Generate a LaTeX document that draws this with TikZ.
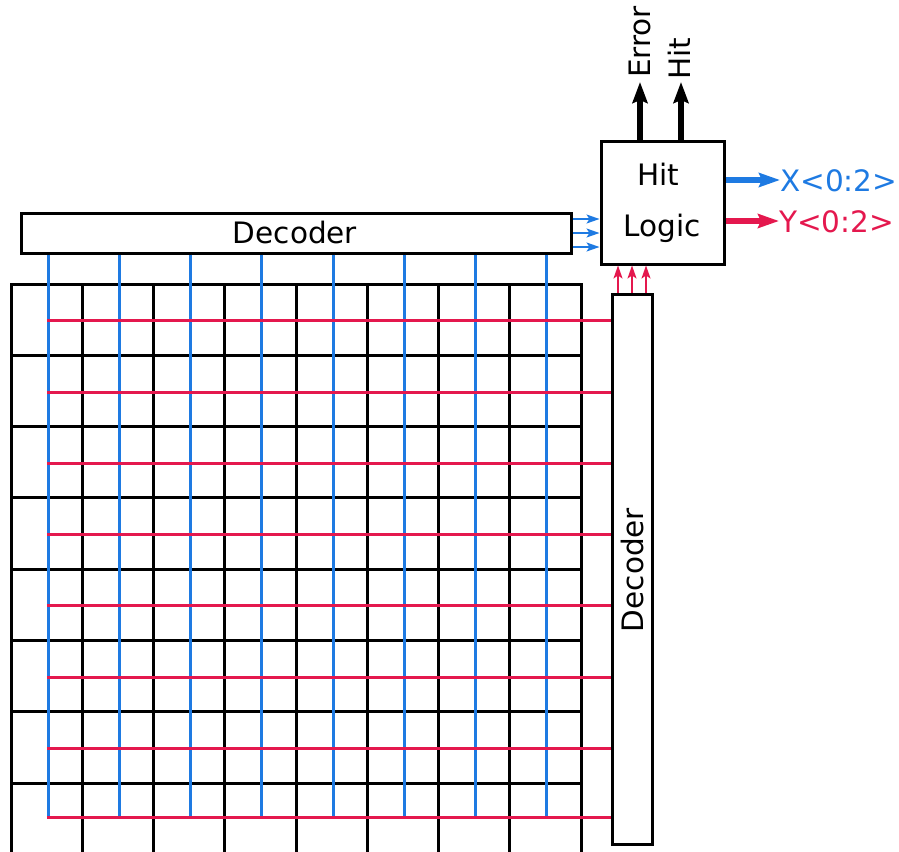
\documentclass[tikz,border=0pt]{standalone}
\usepackage{fontspec}
\setmainfont{DejaVu Sans}
\usetikzlibrary{arrows.meta}
\definecolor{wblue}{RGB}{30,122,226}
\definecolor{wred}{RGB}{228,24,78}
\tikzset{
  lbl/.style={inner sep=0pt, font=\fontsize{29.5}{35}\selectfont},
  blk/.style={draw=black, line width=3pt, fill=white, inner sep=0pt},
  grid line/.style={draw=black, line width=3pt, line cap=rect},
  bline/.style={draw=wblue, line width=3pt},
  rline/.style={draw=wred, line width=3pt},
  small arrow/.style={line width=1.8pt, -{Stealth[length=13pt,width=9pt,inset=3pt]}},
  big arrow/.style={line width=6pt, -{Stealth[length=21pt,width=15pt,inset=3pt]}},
  out arrow/.style={line width=5.5pt, -{Stealth[length=21pt,width=14pt,inset=3pt]}},
}
\begin{document}
\begin{tikzpicture}[x=1pt,y=-1pt]
\useasboundingbox (0,0) rectangle (899,851);
% grid
\foreach \k in {0,...,8} {
  \draw[grid line] (11+71.25*\k,284) -- (11+71.25*\k,853);
}
\foreach \k in {0,...,7} {
  \draw[grid line] (11,284+71.3*\k) -- (581,284+71.3*\k);
}
% decoders and hit logic
\node[blk, minimum width=550pt, minimum height=40pt] (dtop) at (296,233) {};
\node[lbl, anchor=base] (dtoplbl) at (295,243) {Decoder};
\node[blk, minimum width=40pt, minimum height=550pt] (dright) at (632,569) {};
\node[lbl, anchor=base, rotate=90] (drightlbl) at (643,570) {Decoder};
\node[blk, minimum width=123pt, minimum height=123pt] (hit) at (662.5,202.5) {};
\node[lbl, anchor=base] (hitlbl) at (658.5,185.5) {Hit};
\node[lbl, anchor=base] (logiclbl) at (662,236) {Logic};
% blue column lines
\foreach \k in {0,...,7} {
  \draw[bline] (48+71.25*\k,0 |- dtop.south) -- (48+71.25*\k,817.3);
}
% red row lines
\foreach \y in {320.7,392,463.3,534.6,605.9,677.2,748.5,817.3} {
  \draw[rline] (46.8,\y) -- (dright.west |- 0,\y);
}
% small arrows decoder -> hit logic
\foreach \yy in {219,233,247} {
  \draw[small arrow, wblue] (dtop.east |- 0,\yy) -- (hit.west |- 0,\yy);
}
\foreach \xx in {618,632,646} {
  \draw[small arrow, wred] (\xx,0 |- dright.north) -- (\xx,0 |- hit.south);
}
% outputs
\coordinate (errend) at (640,82);
\coordinate (hitend) at (681,82);
\draw[big arrow] (640,0 |- hit.north) -- (errend);
\draw[big arrow] (681,0 |- hit.north) -- (hitend);
\node[lbl, anchor=base west, rotate=90] (errlbl) at (650.5,78) {Error};
\node[lbl, anchor=base west, rotate=90] (hitout) at (690,80) {Hit};
\node[lbl, anchor=base west, text=wblue] (xlbl) at (780,191) {X<0:2>};
\node[lbl, anchor=base west, text=wred] (ylbl) at (779,232) {Y<0:2>};
\draw[out arrow, wblue] (hit.east |- 0,180) -- (xlbl.west |- 0,180);
\draw[out arrow, wred] (hit.east |- 0,221) -- (ylbl.west |- 0,221);
\end{tikzpicture}
\end{document}
